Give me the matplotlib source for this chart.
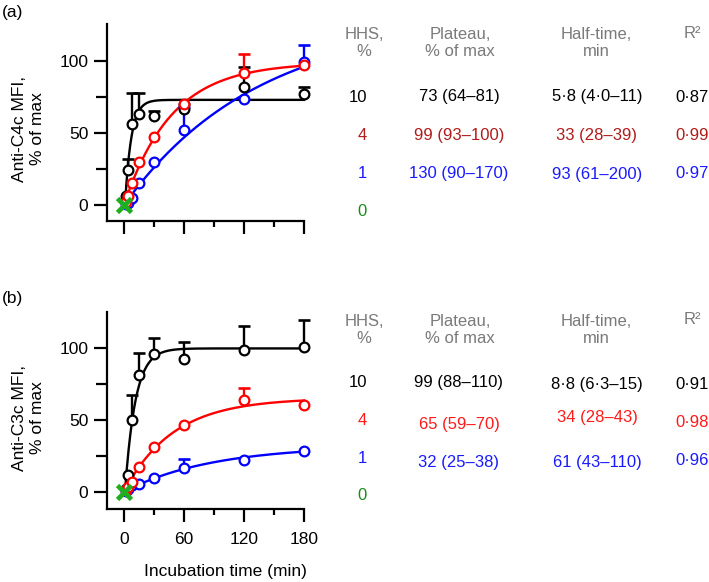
import numpy as np
import matplotlib
matplotlib.use("Agg")
import matplotlib.pyplot as plt

plt.rcParams['font.family'] = ['Liberation Sans', 'DejaVu Sans']

# ---------------- data ----------------
times = [2, 4, 8, 15, 30, 60, 120, 180]
nan = np.nan

# panel (a) anti-C4c
a_black = [6, 24, 56, 63, 62, 66.4, 82, 77]
a_black_top = [nan, 32, 77.5, 78, 65.5, 70, 95.5, 82]
a_red = [2, 6, 15.5, 30, 47.5, 70, 92, 97]
a_red_top = [nan, nan, nan, nan, nan, nan, 105, nan]
a_blue = [0.5, 1.5, 4.6, 15, 30, 52, 73.6, 99.5]
a_blue_top = [nan, nan, nan, nan, nan, 68, nan, 111]

# panel (b) anti-C3c
b_black = [2, 11.6, 50, 81, 95.6, 92, 98.4, 100.3]
b_black_top = [nan, nan, 67, 96.5, 107, 104, 115, 119.5]
b_red = [1, 3, 7, 17.4, 31.3, 46.3, 63.7, 60.2]
b_red_top = [nan, nan, nan, nan, nan, nan, 71.8, nan]
b_blue = [0.5, 2, 4.5, 5.3, 9.3, 16.5, 22, 28.5]
b_blue_top = [nan, nan, nan, nan, nan, 22.8, nan, nan]

# fitted one-phase association curves (plateau, half-time, start) as drawn
a_fit = {'black': (73, 4.3, 1.0), 'red': (99, 33, 0.0), 'blue': (130, 93, 0.0)}
b_fit = {'black': (99.5, 7.2, 1.0), 'red': (65, 34, 0.0), 'blue': (32, 61, 0.0)}

# table texts
headers = ["HHS,\n%", "Plateau,\n% of max", "Half-time,\nmin", "R²"]
hhs = ["10", "4", "1", "0"]
a_plateau = ["73 (64–81)", "99 (93–100)", "130 (90–170)"]
a_half = ["5·8 (4·0–11)", "33 (28–39)", "93 (61–200)"]
a_r2 = ["0·87", "0·99", "0·97"]
b_plateau = ["99 (88–110)", "65 (59–70)", "32 (25–38)"]
b_half = ["8·8 (6·3–15)", "34 (28–43)", "61 (43–110)"]
b_r2 = ["0·91", "0·98", "0·96"]

W, H = 709, 582
fig = plt.figure(figsize=(W/100, H/100), dpi=100)

def fx(x):
    return x / W

def fy(y):
    return 1 - y / H

GREEN = '#1fae1f'
GREEN_TXT = '#1a8c1a'
GRAY = '#7a7a7a'


def draw_panel(ax, data, fits, ylim):
    ax.set_xlim(-17, 180)
    ax.set_ylim(*ylim)
    for s in ['top', 'right']:
        ax.spines[s].set_visible(False)
    for s in ['left', 'bottom']:
        ax.spines[s].set_linewidth(1.6)
    ax.set_xticks([0, 60, 120, 180])
    ax.set_xticks([30, 90, 150], minor=True)
    ax.set_yticks([0, 50, 100])
    ax.set_yticks([25, 75], minor=True)
    ax.tick_params(axis='both', which='major', direction='out', length=9.5,
                   width=1.6, labelsize=12.5)
    ax.tick_params(axis='x', which='minor', direction='out', length=4.5, width=1.6)
    ax.tick_params(axis='y', which='minor', direction='out', length=8, width=1.6)
    ax.tick_params(axis='y', pad=4)
    ax.tick_params(axis='x', pad=7)
    t = np.array(times, dtype=float)
    for color, vals, tops in data:
        P, T, t0 = fits[color]
        tc = np.linspace(t0, 180, 400)
        yc = P * (1 - 2 ** (-(tc - t0) / T))
        ax.plot(tc, yc, color=color, lw=1.7, zorder=2, clip_on=False)
        v = np.array(vals, dtype=float)
        tp = np.array(tops, dtype=float)
        m = ~np.isnan(tp)
        ax.vlines(t[m], v[m], tp[m], color=color, lw=1.7, zorder=2.5, clip_on=False)
        ax.plot(t[m], tp[m], ls='none', marker='_', ms=8, mew=1.9, color=color,
                zorder=2.5, clip_on=False)
        ax.plot(t, v, ls='none', marker='o', ms=7, mew=1.6, mec=color, mfc='white',
                zorder=3, clip_on=False)
    ax.plot([0], [0], ls='none', marker='x', ms=10.5, mew=3.4, color=GREEN, zorder=5,
            clip_on=False)


axA = fig.add_axes([fx(107), fy(220.8), 197 / W, 196.8 / H])
draw_panel(axA,
           [('black', a_black, a_black_top), ('blue', a_blue, a_blue_top),
            ('red', a_red, a_red_top)],
           a_fit, (-11, 125.7))
axA.tick_params(axis='x', labelbottom=False)

axB = fig.add_axes([fx(107), fy(509), 197 / W, (509 - 311.7) / H])
draw_panel(axB,
           [('black', b_black, b_black_top), ('blue', b_blue, b_blue_top),
            ('red', b_red, b_red_top)],
           b_fit, (-12, 125))

# axis labels
fig.text(fx(28.5), fy(129), "Anti-C4c MFI,\n% of max", rotation=90, ha='center',
         va='center', fontsize=12.5, multialignment='center', linespacing=1.25)
fig.text(fx(28.5), fy(418), "Anti-C3c MFI,\n% of max", rotation=90, ha='center',
         va='center', fontsize=12.5, multialignment='center', linespacing=1.25)
fig.text(fx(225), fy(571.7), "Incubation time (min)", ha='center', va='center',
         fontsize=12.5)
fig.text(fx(2), fy(13), "(a)", ha='left', va='center', fontsize=12.5)
fig.text(fx(2), fy(298), "(b)", ha='left', va='center', fontsize=12.5)

# tables
FS = 12


def draw_table(ytop, rows_y, plateau, half, r2, pl_y, hf_y, r2_y, colors):
    hx = [364, 460, 596, 692]
    for i, h in enumerate(headers[:3]):
        fig.text(fx(hx[i]), fy(ytop + 10), h, ha='center', va='center', fontsize=FS,
                 color=GRAY, linespacing=1.2, multialignment='center')
    fig.text(fx(hx[3]), fy(ytop), headers[3], ha='center', va='center', fontsize=FS,
             color=GRAY)
    for i, s in enumerate(hhs):
        fig.text(fx(367), fy(rows_y[i]), s, ha='right', va='center', fontsize=FS,
                 color=colors[i])
    for i in range(3):
        fig.text(fx(459), fy(pl_y[i]), plateau[i], ha='center', va='center',
                 fontsize=FS, color=colors[i])
        fig.text(fx(597), fy(hf_y[i]), half[i], ha='center', va='center',
                 fontsize=FS, color=colors[i])
        fig.text(fx(692), fy(r2_y[i]), r2[i], ha='center', va='center',
                 fontsize=FS, color=colors[i])


draw_table(33, [97, 135, 173, 211], a_plateau, a_half, a_r2,
           [97, 135, 173], [97, 135, 174], [97, 135, 173],
           ['black', '#b01c1c', '#1a1aff', GREEN_TXT])
draw_table(320, [382.7, 420.7, 458.3, 496], b_plateau, b_half, b_r2,
           [382.7, 424, 462.3], [384.3, 417.7, 462.3], [384.3, 422.3, 460.7],
           ['black', '#ff1a1a', '#1a1aff', GREEN_TXT])

fig.savefig("out.png", dpi=100)
